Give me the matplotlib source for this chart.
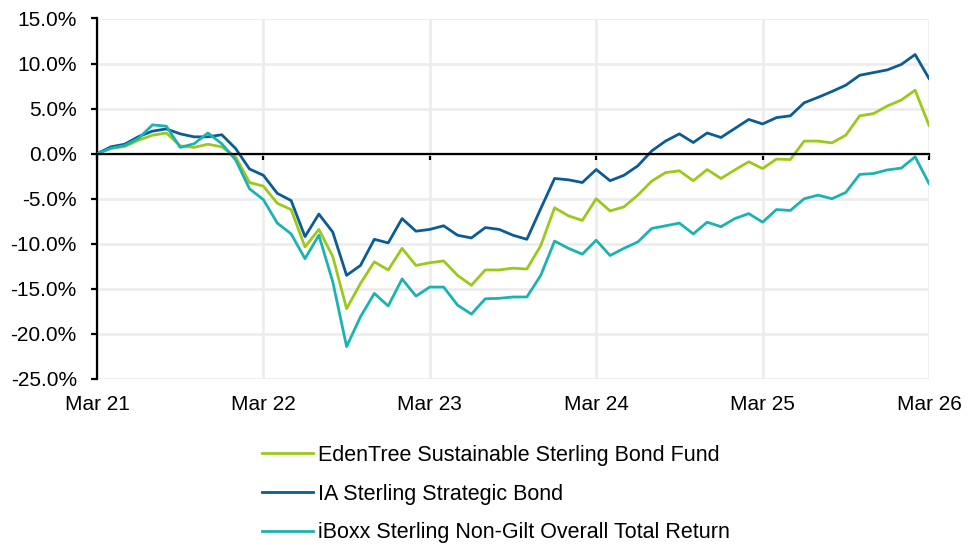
import matplotlib.pyplot as plt
import numpy as np

plt.rcParams['font.family'] = ['Liberation Sans', 'DejaVu Sans']
plt.rcParams['font.size'] = 15

# monthly cumulative total return (%), Mar 21 .. Mar 26
months = np.arange(61)
edentree = [0, 0.6, 0.8, 1.5, 2.05, 2.3, 0.87, 0.7, 1.05, 0.76,
            -0.35, -3.2, -3.6, -5.5, -6.2, -10.35, -8.4, -11.4, -17.2, -14.4,
            -12.0, -12.9, -10.5, -12.4, -12.1, -11.9, -13.5, -14.6, -12.9, -12.9,
            -12.7, -12.8, -10.2, -6.0, -6.9, -7.4, -5.0, -6.35, -5.9, -4.6,
            -3.05, -2.1, -1.9, -3.0, -1.76, -2.75, -1.8, -0.9, -1.65, -0.6,
            -0.65, 1.4, 1.4, 1.2, 2.05, 4.2, 4.45, 5.3, 5.95, 7.05, 3.15]
ia_strategic = [0, 0.76, 1.05, 1.9, 2.5, 2.75, 2.2, 1.87, 1.87, 2.1,
                0.57, -1.7, -2.4, -4.4, -5.2, -9.2, -6.7, -8.7, -13.5, -12.4,
                -9.5, -9.9, -7.2, -8.6, -8.4, -8.0, -9.05, -9.35, -8.2, -8.4,
                -9.05, -9.5, -6.1, -2.75, -2.9, -3.2, -1.76, -3.0, -2.4, -1.35,
                0.3, 1.4, 2.2, 1.24, 2.3, 1.8, 2.8, 3.8, 3.3, 4.0,
                4.2, 5.65, 6.25, 6.9, 7.6, 8.7, 9.0, 9.3, 9.9, 11.0, 8.35]
iboxx = [0, 0.6, 0.9, 1.7, 3.2, 3.05, 0.7, 1.1, 2.3, 1.1,
         -0.7, -3.9, -5.1, -7.7, -8.9, -11.65, -9.05, -14.2, -21.4, -18.1,
         -15.5, -16.9, -13.9, -15.8, -14.8, -14.8, -16.8, -17.8, -16.1, -16.05,
         -15.9, -15.9, -13.5, -9.7, -10.5, -11.15, -9.6, -11.3, -10.5, -9.8,
         -8.3, -8.0, -7.7, -8.9, -7.6, -8.1, -7.2, -6.65, -7.6, -6.2,
         -6.3, -5.0, -4.6, -5.0, -4.3, -2.3, -2.2, -1.8, -1.6, -0.35, -3.3]

names = ['EdenTree Sustainable Sterling Bond Fund',
         'IA Sterling Strategic Bond',
         'iBoxx Sterling Non-Gilt Overall Total Return']
colors = ['#9cc81a', '#0a5c96', '#1bb3b1']

year_ticks = [0, 12, 24, 36, 48, 60]
year_labels = ['Mar 21', 'Mar 22', 'Mar 23', 'Mar 24', 'Mar 25', 'Mar 26']
yticks = np.arange(-25, 16, 5)

fig = plt.figure(figsize=(9.77, 5.45), dpi=100)
ax = fig.add_axes([97/977, 1 - 379/545, 832/977, 360.5/545])

for vals, name, c in zip([edentree, ia_strategic, iboxx], names, colors):
    ax.plot(months, vals, color=c, lw=2.0, label=name, zorder=3)

ax.set_xlim(0, 60)
ax.set_ylim(-25, 15)
ax.set_yticks(yticks)
ax.set_yticklabels([f'{v:.1f}%' for v in yticks])
ax.set_xticks(year_ticks)
ax.tick_params(axis='x', labelbottom=False, direction='out', length=4.5, width=1.6)
ax.tick_params(axis='y', direction='out', length=4, width=1.6, pad=10.5)
ax.grid(True, color='#ececec', lw=1.9, zorder=0)
ax.set_axisbelow(True)

for s in ['top', 'right']:
    ax.spines[s].set_visible(False)
ax.spines['left'].set_linewidth(1.6)
ax.spines['bottom'].set_position(('data', 0))
ax.spines['bottom'].set_linewidth(1.6)
ax.spines['bottom'].set_zorder(4)

# date labels sit under the plot area, not on the zero line
sec = ax.secondary_xaxis('bottom')
sec.set_xticks(year_ticks)
sec.set_xticklabels(year_labels)
sec.tick_params(length=0, pad=11.5)
sec.spines['bottom'].set_visible(False)

fig.legend(loc='upper left', bbox_to_anchor=(262/977, 1 - 445/545),
           frameon=False, borderaxespad=0, borderpad=0, fontsize=15.5,
           handlelength=2.35, handletextpad=0.26, labelspacing=0.82)

fig.savefig('out.png', dpi=100)
